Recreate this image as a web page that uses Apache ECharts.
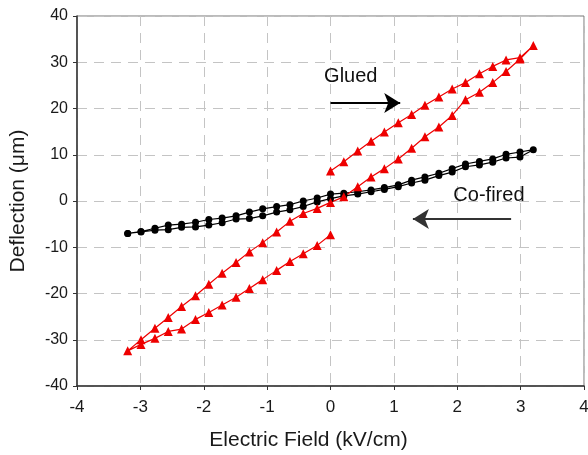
<!DOCTYPE html>
<html lang="en">
<head>
    <meta charset="UTF-8">
    <title>Deflection vs Electric Field</title>
    <script src="https://cdn.jsdelivr.net/npm/echarts@6.0.0/dist/echarts.min.js"></script>
    <style type="text/css">
        body{ margin:0; }
    </style>
</head>
<body>
<div id="main" style="width:588px;height:455px;"></div>
<script type="text/javascript">
    // Glued sample (red triangles), one continuous path
    var gluedX = [0, -0.21, -0.43, -0.64, -0.85, -1.07, -1.28, -1.49, -1.71, -1.92, -2.13, -2.35, -2.56, -2.77, -2.99, -3.2,
        -2.99, -2.77, -2.56, -2.35, -2.13, -1.92, -1.71, -1.49, -1.28, -1.07, -0.85, -0.64, -0.43, -0.21, 0,
        0.21, 0.43, 0.64, 0.85, 1.07, 1.28, 1.49, 1.71, 1.92, 2.13, 2.35, 2.56, 2.77, 2.99, 3.2,
        2.99, 2.77, 2.56, 2.35, 2.13, 1.92, 1.71, 1.49, 1.28, 1.07, 0.85, 0.64, 0.43, 0.21, 0];
    var gluedY = [-7.3, -9.6, -11.4, -13.1, -15.0, -17.0, -18.9, -20.8, -22.5, -24.1, -25.6, -27.7, -28.2, -29.7, -31.0, -32.4,
        -30.0, -27.5, -25.2, -22.8, -20.5, -18.0, -15.6, -13.3, -11.0, -9.0, -6.7, -4.4, -2.7, -1.6, -0.3,
        0.9, 3.1, 5.2, 7.0, 9.1, 11.4, 13.9, 16.0, 18.5, 21.9, 23.5, 25.6, 28.0, 30.7, 33.6,
        31.0, 30.5, 29.1, 27.5, 25.6, 24.2, 22.5, 20.7, 18.7, 16.9, 14.9, 12.9, 10.8, 8.5, 6.5];

    // Co-fired sample (black circles), lower branch then upper branch
    var cofiredX = [-3.2, -2.99, -2.77, -2.56, -2.35, -2.13, -1.92, -1.71, -1.49, -1.28, -1.07, -0.85, -0.64, -0.43, -0.21, 0,
        0.21, 0.43, 0.64, 0.85, 1.07, 1.28, 1.49, 1.71, 1.92, 2.13, 2.35, 2.56, 2.77, 2.99, 3.2,
        2.99, 2.77, 2.56, 2.35, 2.13, 1.92, 1.71, 1.49, 1.28, 1.07, 0.85, 0.64, 0.43, 0.21, 0,
        -0.21, -0.43, -0.64, -0.85, -1.07, -1.28, -1.49, -1.71, -1.92, -2.13, -2.35, -2.56, -2.77, -2.99, -3.2];
    var cofiredY = [-7.0, -6.7, -6.3, -6.2, -5.7, -5.6, -5.2, -4.7, -3.9, -3.8, -3.2, -2.4, -1.9, -1.2, -0.2, 0.5,
        1.1, 1.5, 2.0, 2.5, 3.1, 3.9, 4.5, 5.5, 6.25, 7.4, 7.8, 8.4, 9.3, 9.5, 11.1,
        10.6, 10.1, 9.1, 8.55, 8.0, 7.0, 6.0, 5.2, 4.5, 3.5, 2.9, 2.4, 2.0, 1.7, 1.5,
        0.65, 0.0, -0.8, -1.2, -1.7, -2.4, -3.2, -3.7, -4.0, -4.6, -5.0, -5.2, -5.9, -6.6, -7.0];

    var xTicks = [-4, -3, -2, -1, 0, 1, 2, 3, 4];
    var yTicks = [-40, -30, -20, -10, 0, 10, 20, 30, 40];

    function pairs(xs, ys) {
        var res = [];
        for (var i = 0; i < xs.length; i++) {
            res.push([xs[i], ys[i]]);
        }
        return res;
    }

    var myChart = echarts.init(document.getElementById('main'));
    var font = 'Liberation Sans, Arial, sans-serif';

    var option = {
        animation: false,
        grid: {
            left: 77, right: 4, top: 16, bottom: 69,
            outerBoundsMode: 'none',
            show: true, borderColor: '#777', borderWidth: 1
        },
        xAxis: {
            type: 'value',
            min: xTicks[0], max: xTicks[xTicks.length - 1], interval: 1,
            name: 'Electric Field (kV/cm)',
            nameLocation: 'middle', nameGap: 44,
            nameTextStyle: { fontFamily: font, fontSize: 21, color: '#1a1a1a', padding: [0, 44, 0, 0] },
            axisLine: { onZero: false, lineStyle: { color: '#333', width: 1.5 } },
            axisTick: { show: true, length: 4, lineStyle: { color: '#333' } },
            axisLabel: { fontFamily: font, fontSize: 17, color: '#1a1a1a', margin: 13 },
            splitLine: { show: true, lineStyle: { color: '#c4c4c4', type: [10, 7], width: 1 } }
        },
        yAxis: {
            type: 'value',
            min: yTicks[0], max: yTicks[yTicks.length - 1], interval: 10,
            name: 'Deflection (\u03bcm)',
            nameLocation: 'middle', nameGap: 48,
            nameTextStyle: { fontFamily: font, fontSize: 21, color: '#1a1a1a' },
            axisLine: { onZero: false, lineStyle: { color: '#333', width: 1.5 } },
            axisTick: { show: true, length: 4, lineStyle: { color: '#333' } },
            axisLabel: { fontFamily: font, fontSize: 16, color: '#1a1a1a', margin: 9 },
            splitLine: { show: true, lineStyle: { color: '#c4c4c4', type: [10, 7], width: 1 } }
        },
        series: [
            {
                name: 'Co-fired',
                type: 'line',
                data: pairs(cofiredX, cofiredY),
                symbol: 'circle', symbolSize: 7,
                itemStyle: { color: '#000' },
                lineStyle: { color: '#000', width: 1.2 },
                silent: true,
                markPoint: {
                    symbol: 'rect', symbolSize: 0, silent: true,
                    label: { show: true, formatter: 'Co-fired', fontFamily: font, fontSize: 20, color: '#111' },
                    data: [{ coord: [2.5, 1.3] }]
                },
                markLine: {
                    silent: true, symbol: ['none', 'arrow'], symbolSize: [15, 16],
                    label: { show: false },
                    lineStyle: { color: '#333', width: 2, type: 'solid' },
                    data: [[{ coord: [2.85, -3.9] }, { coord: [1.3, -3.9] }]]
                }
            },
            {
                name: 'Glued',
                type: 'line',
                data: pairs(gluedX, gluedY),
                symbol: 'triangle', symbolSize: 9,
                itemStyle: { color: '#ee0000' },
                lineStyle: { color: '#ee0000', width: 1.2 },
                silent: true,
                markPoint: {
                    symbol: 'rect', symbolSize: 0, silent: true,
                    label: { show: true, formatter: 'Glued', fontFamily: font, fontSize: 20, color: '#111' },
                    data: [{ coord: [0.32, 27] }]
                },
                markLine: {
                    silent: true, symbol: ['none', 'arrow'], symbolSize: [15, 16],
                    label: { show: false },
                    lineStyle: { color: '#000', width: 2, type: 'solid' },
                    data: [[{ coord: [0, 21.2] }, { coord: [1.1, 21.2] }]]
                }
            }
        ]
    };
    myChart.setOption(option);
</script>
</body>
</html>
